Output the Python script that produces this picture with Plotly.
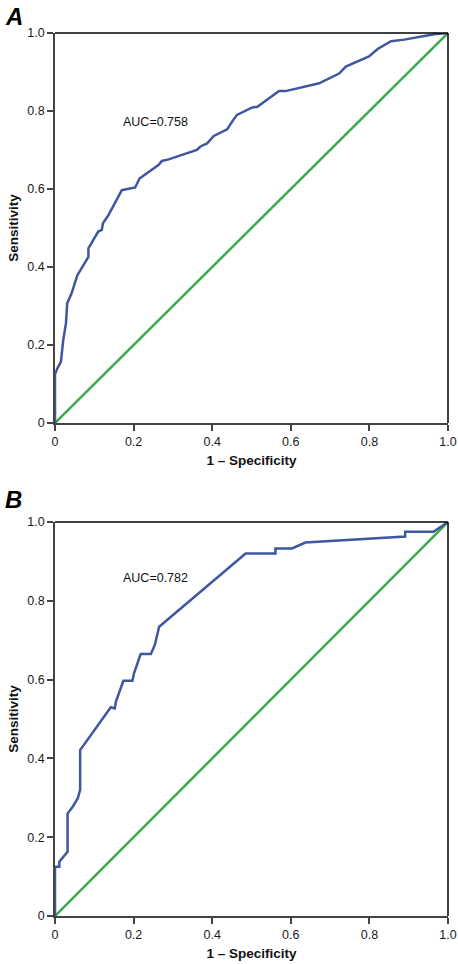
import plotly.graph_objects as go

# Panel A ROC curve
fpr_a = [0.0, 0.0, 0.006, 0.015, 0.021, 0.028, 0.031, 0.042, 0.057, 0.077, 0.085, 0.085,
         0.110, 0.119, 0.122, 0.136, 0.170, 0.204, 0.215, 0.264, 0.272, 0.289, 0.361,
         0.370, 0.387, 0.404, 0.438, 0.451, 0.463, 0.502, 0.515, 0.570, 0.587, 0.672,
         0.723, 0.740, 0.799, 0.821, 0.855, 0.889, 0.948, 0.965, 1.0]
tpr_a = [0.0, 0.125, 0.140, 0.157, 0.213, 0.256, 0.307, 0.332, 0.379, 0.414, 0.426, 0.448,
         0.491, 0.495, 0.512, 0.533, 0.597, 0.604, 0.627, 0.662, 0.672, 0.676, 0.700,
         0.709, 0.717, 0.736, 0.753, 0.773, 0.790, 0.809, 0.811, 0.851, 0.851, 0.871,
         0.896, 0.914, 0.940, 0.959, 0.979, 0.983, 0.994, 0.997, 1.0]

# Panel B ROC curve
fpr_b = [0.0, 0.0, 0.011, 0.011, 0.032, 0.032, 0.045, 0.058, 0.064, 0.064, 0.142, 0.152,
         0.155, 0.174, 0.197, 0.201, 0.218, 0.244, 0.254, 0.261, 0.265, 0.485, 0.561,
         0.561, 0.603, 0.637, 0.891, 0.891, 0.963, 1.0]
tpr_b = [0.0, 0.125, 0.125, 0.138, 0.163, 0.260, 0.277, 0.299, 0.320, 0.421, 0.530, 0.527,
         0.544, 0.597, 0.597, 0.616, 0.665, 0.665, 0.688, 0.717, 0.734, 0.920, 0.920,
         0.933, 0.933, 0.948, 0.963, 0.975, 0.975, 1.0]

ref_line = [0.0, 1.0]
tick_vals = [0, 0.2, 0.4, 0.6, 0.8, 1.0]
tick_text = ["0", "0.2", "0.4", "0.6", "0.8", "1.0"]
auc_labels = ["AUC=0.758", "AUC=0.782"]
panel_labels = ["A", "B"]

BLUE = "#3f56a0"
GREEN = "#3cab4b"
FONT = "Liberation Sans, Arial, sans-serif"

W, H = 458, 964
ML, MR, MT, MB = 55, 10, 33, 48

fig = go.Figure()
fig.add_trace(go.Scatter(x=ref_line, y=ref_line, mode="lines", line=dict(color=GREEN, width=2.5),
                         xaxis="x", yaxis="y", showlegend=False))
fig.add_trace(go.Scatter(x=fpr_a, y=tpr_a, mode="lines", line=dict(color=BLUE, width=2.5),
                         xaxis="x", yaxis="y", showlegend=False))
fig.add_trace(go.Scatter(x=ref_line, y=ref_line, mode="lines", line=dict(color=GREEN, width=2.5),
                         xaxis="x2", yaxis="y2", showlegend=False))
fig.add_trace(go.Scatter(x=fpr_b, y=tpr_b, mode="lines", line=dict(color=BLUE, width=2.5),
                         xaxis="x2", yaxis="y2", showlegend=False))

axis_common = dict(range=[0, 1], showgrid=False, zeroline=False, showline=True,
                   linecolor="#444", linewidth=1.5, ticks="outside", ticklen=6,
                   tickcolor="#444", tickwidth=1.5, tickvals=tick_vals, ticktext=tick_text,
                   tickfont=dict(family=FONT, size=12.5, color="#1a1a1a"), fixedrange=True,
                   automargin=False)

xtitle = dict(text="<b>1 – Specificity</b>", font=dict(family=FONT, size=13.5, color="#111"), standoff=8)
ytitle = dict(text="<b>Sensitivity</b>", font=dict(family=FONT, size=13.5, color="#111"), standoff=6)

plot_w = W - ML - MR
plot_h = H - MT - MB


def paper_x(px):
    return (px - ML) / plot_w


def paper_y(py):
    return (H - MB - py) / plot_h


fig.update_layout(
    width=W, height=H,
    margin=dict(l=ML, r=MR, t=MT, b=MB),
    plot_bgcolor="white", paper_bgcolor="white",
    xaxis=dict(domain=[0, 1], anchor="y", title=xtitle, **axis_common),
    yaxis=dict(domain=[paper_y(423), 1.0], anchor="x", title=ytitle, **axis_common),
    xaxis2=dict(domain=[0, 1], anchor="y2", title=xtitle, **axis_common),
    yaxis2=dict(domain=[0.0, paper_y(522)], anchor="x2", title=ytitle, **axis_common),
    shapes=[
        dict(type="line", xref="x domain", yref="y domain", x0=0, x1=1, y0=1, y1=1,
             line=dict(color="black", width=1.5)),
        dict(type="line", xref="x domain", yref="y domain", x0=1, x1=1, y0=0, y1=1,
             line=dict(color="black", width=1.5)),
        dict(type="line", xref="x2 domain", yref="y2 domain", x0=0, x1=1, y0=1, y1=1,
             line=dict(color="black", width=1.5)),
        dict(type="line", xref="x2 domain", yref="y2 domain", x0=1, x1=1, y0=0, y1=1,
             line=dict(color="black", width=1.5)),
    ],
    annotations=[
        dict(text=auc_labels[0], x=0.167, y=0.772, xref="x", yref="y", xanchor="left",
             yanchor="middle", showarrow=False, font=dict(family=FONT, size=12.5, color="#111")),
        dict(text=auc_labels[1], x=0.168, y=0.858, xref="x2", yref="y2", xanchor="left",
             yanchor="middle", showarrow=False, font=dict(family=FONT, size=12.5, color="#111")),
        dict(text="<b><i>" + panel_labels[0] + "</i></b>", x=paper_x(3), y=paper_y(1),
             xref="paper", yref="paper", xanchor="left", yanchor="top",
             showarrow=False, font=dict(family=FONT, size=24, color="black")),
        dict(text="<b><i>" + panel_labels[1] + "</i></b>", x=paper_x(3), y=paper_y(484),
             xref="paper", yref="paper", xanchor="left", yanchor="top",
             showarrow=False, font=dict(family=FONT, size=24, color="black")),
    ],
)

fig.write_html(
    "out.html",
    config={"displayModeBar": False},
    post_script="document.body.style.margin='0';document.body.style.overflow='hidden';",
)
